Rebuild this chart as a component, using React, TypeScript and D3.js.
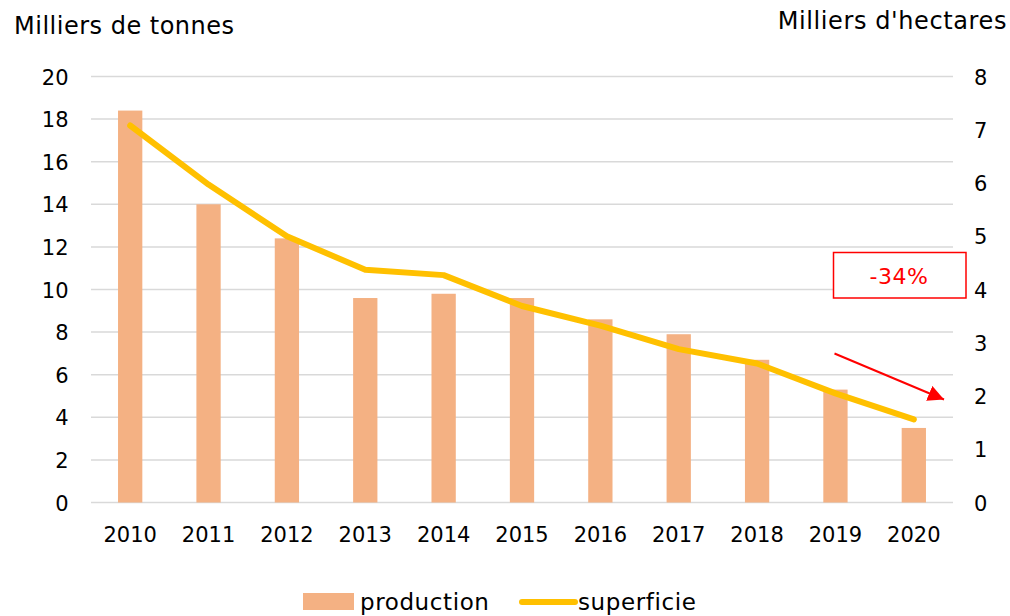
import React from "react";
import * as d3 from "d3";

const years = ["2010","2011","2012","2013","2014","2015","2016","2017","2018","2019","2020"];
const production = [18.4, 14.0, 12.4, 9.6, 9.8, 9.6, 8.6, 7.9, 6.7, 5.3, 3.5];
const superficie = [7.08, 5.97, 5.0, 4.37, 4.27, 3.69, 3.32, 2.88, 2.61, 2.05, 1.56];
const leftTicks = [0, 2, 4, 6, 8, 10, 12, 14, 16, 18, 20];
const rightTicks = [0, 1, 2, 3, 4, 5, 6, 7, 8];

const W = 1010, H = 616;
const FONT = "'DejaVu Sans', sans-serif";

export default function App() {
  const x = d3.scaleBand<string>().domain(years).range([91, 953]);
  const yL = d3.scaleLinear().domain([0, 20]).range([502.5, 76.5]);
  const yR = d3.scaleLinear().domain([0, 8]).range([502.5, 76.5]);
  const bw = x.bandwidth() * 0.31;
  const cx = (yr: string) => (x(yr) as number) + x.bandwidth() / 2;
  const line = d3.line<number>()
    .x((_, i) => cx(years[i]))
    .y((d) => yR(d));

  return (
    <svg width={W} height={H} style={{ position: "absolute", left: 0, top: 0, background: "#fff" }} fontFamily={FONT}>
      <defs>
        <marker id="ah" viewBox="0 0 10 10" refX="10" refY="5" markerWidth="8" markerHeight="8" orient="auto" markerUnits="strokeWidth">
          <path d="M0,0 L10,5 L0,10 z" fill="#FF0000" />
        </marker>
      </defs>
      {leftTicks.map((t) => (
        <line key={"g" + t} x1={91} x2={953} y1={yL(t)} y2={yL(t)} stroke="#D9D9D9" strokeWidth={1.5} />
      ))}
      {leftTicks.map((t) => (
        <text key={"l" + t} x={68.5} y={yL(t) + 8} textAnchor="end" fontSize={21} fill="#000">{t}</text>
      ))}
      {rightTicks.map((t) => (
        <text key={"r" + t} x={974} y={yR(t) + 8} textAnchor="start" fontSize={21} fill="#000">{t}</text>
      ))}
      {production.map((v, i) => (
        <rect key={"b" + i} x={cx(years[i]) - bw / 2} y={yL(v)} width={bw} height={yL(0) - yL(v)} fill="#F4B183" />
      ))}
      <path d={line(superficie) || ""} fill="none" stroke="#FFC000" strokeWidth={6} strokeLinecap="round" strokeLinejoin="round" />
      {years.map((yr) => (
        <text key={"x" + yr} x={cx(yr)} y={541.5} textAnchor="middle" fontSize={21} fill="#000">{yr}</text>
      ))}
      <text x={14} y={34} fontSize={24} letterSpacing={0.5} fill="#000">Milliers de tonnes</text>
      <text x={1007} y={29} fontSize={24} letterSpacing={0.6} textAnchor="end" fill="#000">Milliers d'hectares</text>
      <rect x={833.5} y={252.5} width={132.5} height={45.5} fill="#fff" stroke="#FF0000" strokeWidth={1.5} />
      <text x={899} y={284} textAnchor="middle" fontSize={22} letterSpacing={0.5} fill="#FF0000">-34%</text>
      <line x1={834.5} y1={353.5} x2={944} y2={399.5} stroke="#FF0000" strokeWidth={2} markerEnd="url(#ah)" />
      <rect x={303} y={593} width={51} height={17} fill="#F4B183" />
      <text x={360} y={610} fontSize={23} letterSpacing={0.6} fill="#000">production</text>
      <line x1={522} x2={575} y1={602} y2={602} stroke="#FFC000" strokeWidth={6} strokeLinecap="round" />
      <text x={578} y={610} fontSize={23} letterSpacing={0.6} fill="#000">superficie</text>
    </svg>
  );
}
